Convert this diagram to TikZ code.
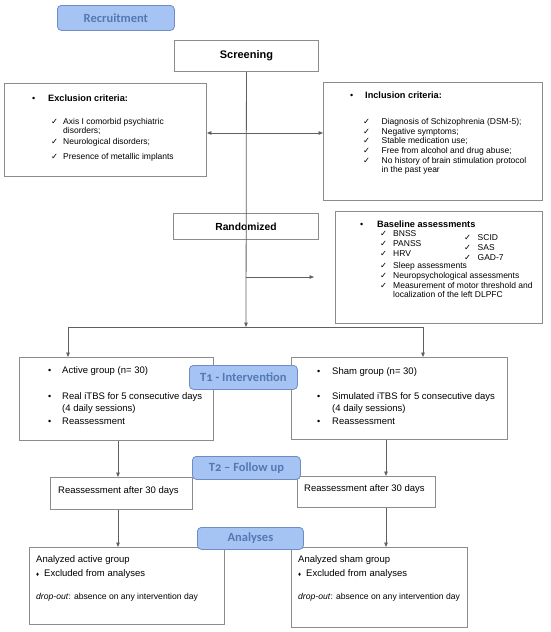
\documentclass[tikz,border=0pt]{standalone}
\usepackage{fontspec}
\setmainfont{Liberation Sans}
\newfontfamily\pillfont{Carlito}[Numbers=OldStyle]
\newfontfamily\symfont{DejaVu Sans}
\usetikzlibrary{arrows.meta}
\definecolor{pillfill}{RGB}{166,196,243}
\definecolor{pilldraw}{RGB}{112,140,196}
\definecolor{pilltext}{RGB}{84,120,178}
\definecolor{boxgray}{RGB}{140,140,140}
\definecolor{linegray}{RGB}{95,95,95}
\newcommand\chk{{\symfont\fontsize{8.3}{9}\selectfont ✓}}
\newcommand\bul{{\fontsize{9}{10}\selectfont •}}
\tikzset{
  box/.style={draw=boxgray, line width=0.9pt, fill=white, anchor=north west, inner sep=0pt},
  pill/.style={draw=pilldraw, line width=0.8pt, fill=pillfill, rounded corners=4pt, anchor=north west, inner sep=0pt,
    text=pilltext, font=\pillfont\bfseries\fontsize{12.5}{14}\selectfont},
  arr/.style={draw=linegray, line width=0.8pt, -{Triangle[length=4.5pt,width=3.6pt]}},
  ln/.style={draw=linegray, line width=0.8pt},
  txt/.style={anchor=base west, inner sep=0pt, font=\fontsize{8.5}{10}\selectfont},
  ttl/.style={anchor=base west, inner sep=0pt, font=\fontsize{9.2}{11}\selectfont},
  gtx/.style={anchor=base west, inner sep=0pt, font=\fontsize{9.5}{11}\selectfont},
  dtx/.style={anchor=base west, inner sep=0pt, font=\fontsize{8.6}{10}\selectfont},
}
\begin{document}
\begin{tikzpicture}[x=1pt,y=-1pt]
\useasboundingbox (0,0) rectangle (550,632);
% boxes
\node[box, minimum width=144pt, minimum height=31pt, font=\bfseries\fontsize{11}{13}\selectfont] (scr) at (174,40) {Screening};
\node[box, minimum width=202pt, minimum height=93pt] (excl) at (4,83) {};
\node[box, minimum width=219pt, minimum height=118pt] (incl) at (323,82) {};
\node[box, minimum width=145pt, minimum height=26pt, font=\bfseries\fontsize{10.3}{12}\selectfont] (rand) at (173,213) {Randomized};
\node[box, minimum width=207pt, minimum height=112pt] (base) at (335,211) {};
\node[box, minimum width=194pt, minimum height=83pt] (act) at (19,357) {};
\node[box, minimum width=216pt, minimum height=82pt] (sham) at (291,357) {};
\node[box, minimum width=142pt, minimum height=32pt] (reA) at (50,477) {};
\node[box, minimum width=138pt, minimum height=31pt] (reS) at (297,476) {};
\node[box, minimum width=195pt, minimum height=77pt] (anA) at (29,547) {};
\node[box, minimum width=176pt, minimum height=80pt] (anS) at (291,547) {};
% connectors
\coordinate (j1) at (246,133);
\coordinate (j2) at (246,327);
\coordinate (j3) at (246,277);
\coordinate (bt) at (314,277);
\coordinate (ja) at (68,327);
\coordinate (js) at (423,327);
\coordinate (ca) at (118,0);
\coordinate (cs) at (386,0);
\draw[arr] (scr.south) -- (j2);
\draw[arr] (j1) -- (j1 -| excl.east);
\draw[arr] (j1) -- (j1 -| incl.west);
\draw[arr] (j3) -- (bt);
\draw[ln] (ja) -- (js);
\draw[arr] (ja) -- (ja |- act.north);
\draw[arr] (js) -- (js |- sham.north);
\draw[arr] (act.south -| ca) -- (reA.north -| ca);
\draw[arr] (sham.south -| cs) -- (reS.north -| cs);
\draw[arr] (reA.south -| ca) -- (anA.north -| ca);
\draw[arr] (reS.south -| cs) -- (anS.north -| cs);
% pills
\node[pill, minimum width=117pt, minimum height=25pt] (rec) at (57,5) {Recruitment};
\node[pill, minimum width=108pt, minimum height=24pt] (t1) at (189,365) {T1 - Intervention};
\node[pill, minimum width=108pt, minimum height=23pt] (t2) at (192,456) {T2 – Follow up};
\node[pill, minimum width=106pt, minimum height=22pt] (ana) at (197,527) {Analyses};
% exclusion text
\node[ttl] (e0) at (32,101) {\makebox[16pt][l]{\bul}\textbf{Exclusion criteria:}};
\node[txt] (e1) at (51,124) {\makebox[12pt][l]{\chk}Axis I comorbid psychiatric};
\node[txt] (e1b) at (63,133.5) {disorders;};
\node[txt] (e2) at (51,144) {\makebox[12pt][l]{\chk}Neurological disorders;};
\node[txt] (e3) at (51,159) {\makebox[12pt][l]{\chk}Presence of metallic implants};
% inclusion text
\node[ttl] (i0) at (350,98) {\makebox[15pt][l]{\bul}\textbf{Inclusion criteria:}};
\node[txt] (i1) at (363,124.5) {\makebox[18.5pt][l]{\chk}Diagnosis of Schizophrenia (DSM-5);};
\node[txt] (i2) at (363,134.2) {\makebox[18.5pt][l]{\chk}Negative symptoms;};
\node[txt] (i3) at (363,143.9) {\makebox[18.5pt][l]{\chk}Stable medication use;};
\node[txt] (i4) at (363,153.6) {\makebox[18.5pt][l]{\chk}Free from alcohol and drug abuse;};
\node[txt] (i5) at (363,163.3) {\makebox[18.5pt][l]{\chk}No history of brain stimulation protocol};
\node[txt] (i5b) at (381.5,172.8) {in the past year};
% baseline text
\node[ttl] (b0) at (360,227) {\makebox[17pt][l]{\bul}\textbf{Baseline assessments}};
\node[txt] (b1) at (380,236) {\makebox[13pt][l]{\chk}BNSS};
\node[txt] (b2) at (380,246.3) {\makebox[13pt][l]{\chk}PANSS};
\node[txt] (b3) at (380,256.6) {\makebox[13pt][l]{\chk}HRV};
\node[txt] (b4) at (380,268.6) {\makebox[13pt][l]{\chk}Sleep assessments};
\node[txt] (b5) at (380,278.6) {\makebox[13pt][l]{\chk}Neuropsychological assessments};
\node[txt] (b6) at (380,288.4) {\makebox[13pt][l]{\chk}Measurement of motor threshold and};
\node[txt] (b6b) at (393,297.8) {localization of the left DLPFC};
\node[txt] (b7) at (464,240.8) {\makebox[13.5pt][l]{\chk}SCID};
\node[txt] (b8) at (464,250.6) {\makebox[13.5pt][l]{\chk}SAS};
\node[txt] (b9) at (464,260.4) {\makebox[13.5pt][l]{\chk}GAD-7};
% active group
\node[gtx] (a1) at (48,373.5) {\makebox[14pt][l]{\bul}Active group (n= 30)};
\node[gtx] (a2) at (48,399) {\makebox[14pt][l]{\bul}Real iTBS for 5 consecutive days};
\node[gtx] (a2b) at (62,411) {(4 daily sessions)};
\node[gtx] (a3) at (48,424) {\makebox[14pt][l]{\bul}Reassessment};
% sham group
\node[gtx] (s1) at (317,374) {\makebox[15pt][l]{\bul}Sham group (n= 30)};
\node[gtx] (s2) at (317,399.5) {\makebox[15pt][l]{\bul}Simulated iTBS for 5 consecutive days};
\node[gtx] (s2b) at (332,411.5) {(4 daily sessions)};
\node[gtx] (s3) at (317,424.5) {\makebox[15pt][l]{\bul}Reassessment};
% reassessment
\node[gtx] (ra) at (58,493) {Reassessment after 30 days};
\node[gtx] (rs) at (304,491) {Reassessment after 30 days};
% analyses
\node[gtx] (n1) at (36,562) {Analyzed active group};
\node[gtx] (n2) at (36,576) {\makebox[8pt][l]{\fontsize{6}{7}\selectfont ♦}Excluded from analyses};
\node[dtx] (n3) at (36,599) {\textit{drop-out}: absence on any intervention day};
\node[gtx] (m1) at (298,562) {Analyzed sham group};
\node[gtx] (m2) at (298,576) {\makebox[8pt][l]{\fontsize{6}{7}\selectfont ♦}Excluded from analyses};
\node[dtx] (m3) at (298,599) {\textit{drop-out}: absence on any intervention day};
\end{tikzpicture}
\end{document}
